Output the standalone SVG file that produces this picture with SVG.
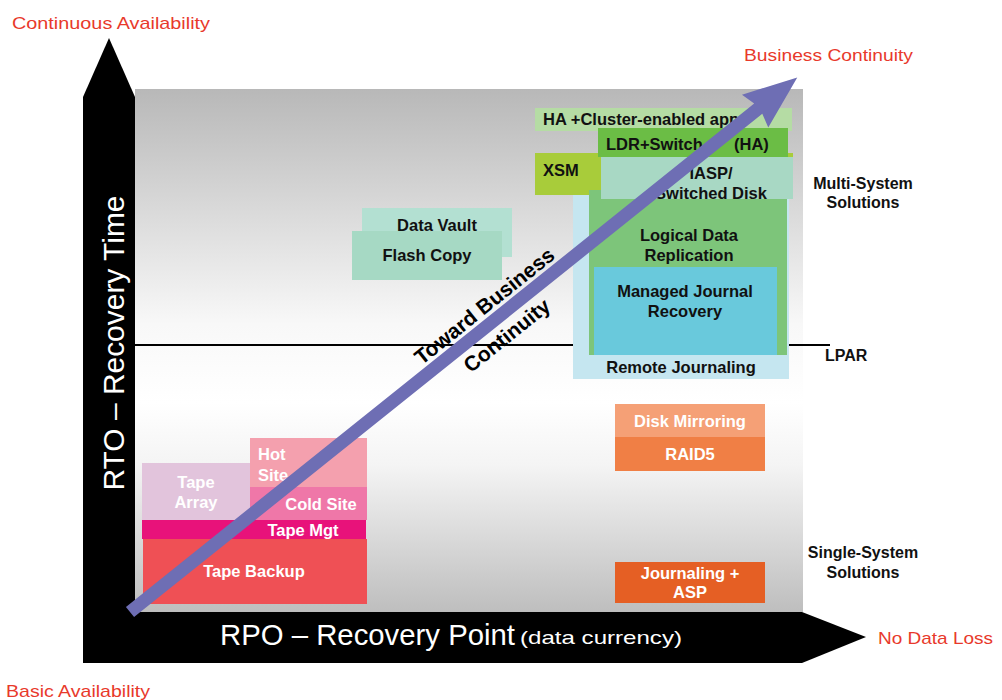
<svg xmlns="http://www.w3.org/2000/svg" width="1002" height="700" viewBox="0 0 1002 700">
<defs>
<linearGradient id="bg" x1="0" y1="89" x2="0" y2="612" gradientUnits="userSpaceOnUse">
<stop offset="0" stop-color="#b8b8b8"/>
<stop offset="0.25" stop-color="#dcdcdc"/>
<stop offset="0.45" stop-color="#f8f8f8"/>
<stop offset="0.6" stop-color="#ffffff"/>
<stop offset="0.72" stop-color="#f4f4f4"/>
<stop offset="1" stop-color="#bebebe"/>
</linearGradient>
<style>
.red{font-family:"Liberation Sans",Arial,sans-serif;font-size:17px;fill:#e8392b}
.lb{font-family:"Liberation Sans",Arial,sans-serif;font-size:16.5px;font-weight:bold;fill:#111}
.lw{font-family:"Liberation Sans",Arial,sans-serif;font-size:16.5px;font-weight:bold;fill:#ffffff}
.ax{font-family:"Liberation Sans",Arial,sans-serif;fill:#ffffff}
.side{font-family:"Liberation Sans",Arial,sans-serif;font-size:16px;font-weight:bold;fill:#111}
</style>
</defs>
<rect width="1002" height="700" fill="#ffffff"/>
<rect id="panel" x="135" y="89" width="668" height="523" fill="url(#bg)"/>
<line x1="135" y1="345" x2="830" y2="345" stroke="#000" stroke-width="2"/>

<g id="axes">
<polygon points="83,663 83,97 109,38 135,97 135,663" fill="#000"/>
<polygon points="83,612 802,612 866,637 802,663 83,663" fill="#000"/>
<text class="ax" transform="translate(124,343) rotate(-90)" text-anchor="middle" font-size="30" textLength="295" lengthAdjust="spacingAndGlyphs">RTO – Recovery Time</text>
<text class="ax" x="220" y="645" font-size="29" textLength="295" lengthAdjust="spacingAndGlyphs">RPO – Recovery Point</text>
<text class="ax" x="520" y="644" font-size="19" textLength="162" lengthAdjust="spacingAndGlyphs">(data currency)</text>
</g>

<g id="labels">
<text class="red" x="12" y="29" textLength="198" lengthAdjust="spacingAndGlyphs">Continuous Availability</text>
<text class="red" x="744" y="61" textLength="169" lengthAdjust="spacingAndGlyphs">Business Continuity</text>
<text class="red" x="878" y="644" textLength="115" lengthAdjust="spacingAndGlyphs">No Data Loss</text>
<text class="red" x="6" y="697" textLength="144" lengthAdjust="spacingAndGlyphs">Basic Availability</text>
<text class="side" x="863" y="189" text-anchor="middle">Multi-System</text>
<text class="side" x="863" y="208" text-anchor="middle">Solutions</text>
<text class="side" x="863" y="558" text-anchor="middle">Single-System</text>
<text class="side" x="863" y="578" text-anchor="middle">Solutions</text>
<text class="side" x="825" y="361">LPAR</text>
</g>

<g id="ha"><rect x="535" y="108" width="257" height="23" fill="#b5dca4"/><text class="lb" x="543" y="125">HA +Cluster-enabled app</text></g>
<g id="xsm"><rect x="535" y="153" width="258" height="42" fill="#a8cc3a"/><text class="lb" x="543" y="176">XSM</text></g>
<g id="ldr"><rect x="598" y="128" width="190" height="29" fill="#6bbd45"/><text class="lb" x="606" y="150">LDR+Switch</text><text class="lb" x="734" y="150">(HA)</text></g>
<g id="rj"><rect x="573" y="195" width="216" height="184" fill="#c5e6f0"/><text class="lb" x="681" y="373" text-anchor="middle">Remote Journaling</text></g>
<g id="ldrep"><rect x="589" y="190" width="198" height="165" fill="#7dc57a"/><text class="lb" x="689" y="241" text-anchor="middle">Logical Data</text><text class="lb" x="689" y="261" text-anchor="middle">Replication</text></g>
<g id="iasp"><rect x="601" y="157" width="192" height="42" fill="#a8d8c4"/><text class="lb" x="711" y="179" text-anchor="middle">IASP/</text><text class="lb" x="711" y="199" text-anchor="middle">Switched Disk</text></g>
<g id="mjr"><rect x="594" y="267" width="183" height="88" fill="#69c9dc"/><text class="lb" x="685" y="297" text-anchor="middle">Managed Journal</text><text class="lb" x="685" y="317" text-anchor="middle">Recovery</text></g>

<g id="vault"><rect x="362" y="208" width="150" height="49" fill="#b3e0d2"/><text class="lb" x="437" y="231" text-anchor="middle">Data Vault</text></g>
<g id="flash"><rect x="352" y="231" width="150" height="49" fill="#a6d9c4"/><text class="lb" x="427" y="261" text-anchor="middle">Flash Copy</text></g>

<g id="mirror"><rect x="615" y="404" width="150" height="33" fill="#f5a076"/><text class="lw" x="690" y="427" text-anchor="middle">Disk Mirroring</text></g>
<g id="raid"><rect x="615" y="437" width="150" height="34" fill="#f07f45"/><text class="lw" x="690" y="460" text-anchor="middle">RAID5</text></g>
<g id="jasp"><rect x="615" y="562" width="150" height="41" fill="#e55f24"/><text class="lw" x="690" y="579" text-anchor="middle">Journaling +</text><text class="lw" x="690" y="598" text-anchor="middle">ASP</text></g>

<g id="tarray"><rect x="142" y="463" width="108" height="57" fill="#e2c4dc"/><text class="lw" x="196" y="488" text-anchor="middle">Tape</text><text class="lw" x="196" y="508" text-anchor="middle">Array</text></g>
<g id="hot"><rect x="250" y="438" width="117" height="50" fill="#f4a0ae"/><text class="lw" x="258" y="460">Hot</text><text class="lw" x="258" y="481">Site</text></g>
<g id="cold"><rect x="250" y="487" width="117" height="33" fill="#ef77a8"/><text class="lw" x="321" y="510" text-anchor="middle">Cold Site</text></g>
<g id="tmgt"><rect x="142" y="520" width="224" height="19" fill="#e8127a"/><text class="lw" x="303" y="536" text-anchor="middle">Tape Mgt</text></g>
<g id="tbackup"><rect x="143" y="539" width="224" height="65" fill="#ef5055"/><text class="lw" x="254" y="577" text-anchor="middle">Tape Backup</text></g>

<g id="connectors">
<g transform="translate(130,612) rotate(-38.7)">
<polygon points="0,-6.5 805,-6.5 801,-21 855,0 801,21 805,6.5 0,6.5" fill="#6e6eb4"/>
<text x="468" y="-10" text-anchor="middle" font-family="Liberation Sans,Arial,sans-serif" font-size="21" font-weight="bold" fill="#000">Toward Business</text>
<text x="467" y="27" text-anchor="middle" font-family="Liberation Sans,Arial,sans-serif" font-size="21" font-weight="bold" fill="#000">Continuity</text>
</g>
</g>
</svg>
